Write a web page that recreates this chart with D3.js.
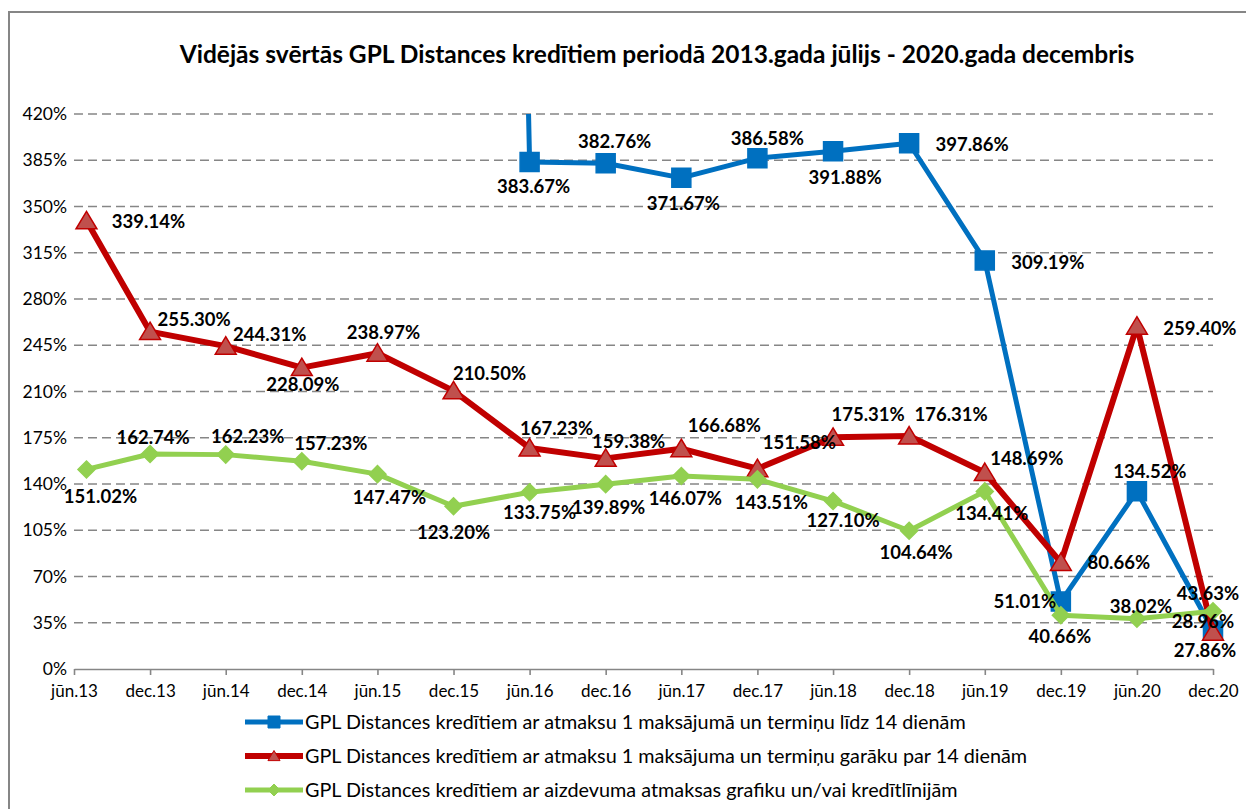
<!DOCTYPE html>
<html>
<head>
<meta charset="utf-8">
<script src="https://cdn.jsdelivr.net/npm/d3@7"></script>
<style>
  html, body { margin: 0; padding: 0; background: #fff; }
  svg { display: block; font-family: Lato, "Noto Sans", sans-serif; }
</style>
</head>
<body>
<svg id="chart" width="1246" height="809"></svg>
<script>
// ---------- DATA ----------
const chartTitle = "Vidējās svērtās GPL Distances kredītiem periodā 2013.gada jūlijs - 2020.gada decembris";
const tickLabels = ["jūn.13","dec.13","jūn.14","dec.14","jūn.15","dec.15","jūn.16","dec.16",
                    "jūn.17","dec.17","jūn.18","dec.18","jūn.19","dec.19","jūn.20","dec.20"];
const tickDates  = ["2013-06","2013-12","2014-06","2014-12","2015-06","2015-12","2016-06","2016-12",
                    "2017-06","2017-12","2018-06","2018-12","2019-06","2019-12","2020-06","2020-12"];
const pointDates = ["2013-07","2013-12","2014-06","2014-12","2015-06","2015-12","2016-06","2016-12",
                    "2017-06","2017-12","2018-06","2018-12","2019-06","2019-12","2020-06","2020-12"];
const seriesNames = [
  "GPL Distances kredītiem ar atmaksu 1 maksājumā un termiņu līdz 14 dienām",
  "GPL Distances kredītiem ar atmaksu 1 maksājuma un termiņu garāku par 14 dienām",
  "GPL Distances kredītiem ar aizdevuma atmaksas grafiku un/vai kredītlīnijām"
];
// dec.15 value of the first series lies far above the visible axis (estimated, clipped)
const shortTermValues = [null, null, null, null, null, 3000, 383.67, 382.76, 371.67, 386.58,
                         391.88, 397.86, 309.19, 51.01, 134.52, 28.96];
const longTermValues  = [339.14, 255.30, 244.31, 228.09, 238.97, 210.50, 167.23, 159.38, 166.68,
                         151.58, 175.31, 176.31, 148.69, 80.66, 259.40, 27.86];
const scheduleValues  = [151.02, 162.74, 162.23, 157.23, 147.47, 123.20, 133.75, 139.89, 146.07,
                         143.51, 127.10, 104.64, 134.41, 40.66, 38.02, 43.63];
const yTicks = [0, 35, 70, 105, 140, 175, 210, 245, 280, 315, 350, 385, 420];
// label placement (offset of label centre from its point, px) – layout only
const shortTermLabelOffsets = [null, null, null, null, null, null, [4,24], [9,-22], [2,25], [10,-20],
                               [12,26], [63,1], [63,2], [-36,0], [13,-20], [-10,-9]];
const longTermLabelOffsets  = [[62,0], [44,-12], [44,-12], [1,17], [6,-21], [36,-17], [27,-20], [23,-17],
                               [43,-23], [42,-26], [35,-23], [42,-22], [42,-14], [58,0], [63,2], [-8,18]];
const scheduleLabelOffsets  = [[14,27], [3,-17], [22,-18], [29,-18], [12,23], [0,26], [10,20], [3,23],
                               [4,22], [14,23], [10,19], [7,22], [7,22], [-1,21], [4,-12], [-5,-18]];

// ---------- LAYOUT ----------
const svg = d3.select("#chart");
const W = 1246, H = 809;
const plot = { left: 74, right: 1213, top: 114, bottom: 669 };
const parse = d3.utcParse("%Y-%m");

const x = d3.scaleUtc()
  .domain([parse(tickDates[0]), parse(tickDates[tickDates.length - 1])])
  .range([plot.left, plot.right]);
const y = d3.scaleLinear().domain([0, 420]).range([plot.bottom, plot.top]);

// outer frame
svg.append("rect").attr("x", 9).attr("y", 12).attr("width", W + 10).attr("height", H + 10)
  .attr("fill", "#fff").attr("stroke", "#868686").attr("stroke-width", 2);

// title
svg.append("text").attr("x", 657).attr("y", 63).attr("text-anchor", "middle")
  .attr("font-weight", "bold").attr("font-size", 24.5).attr("fill", "#000").text(chartTitle);

// gridlines
svg.append("g").selectAll("line").data(yTicks.filter(d => d > 0)).join("line")
  .attr("x1", plot.left).attr("x2", plot.right)
  .attr("y1", d => y(d)).attr("y2", d => y(d))
  .attr("stroke", "#868686").attr("stroke-width", 1.6).attr("stroke-dasharray", "9,5");

// y axis labels
const yAxis = d3.axisLeft(y).tickValues(yTicks).tickFormat(d => d + "%").tickSize(0).tickPadding(7);
const gy = svg.append("g").attr("transform", `translate(${plot.left},0)`).call(yAxis);
gy.select(".domain").remove();
gy.selectAll("text").attr("font-family", "Lato, sans-serif").attr("font-size", 17.5).attr("fill", "#000");

// x axis
const xAxis = d3.axisBottom(x).tickValues(tickDates.map(parse))
  .tickFormat((d, i) => tickLabels[i]).tickSize(6).tickSizeOuter(0).tickPadding(10);
const gx = svg.append("g").attr("transform", `translate(0,${plot.bottom})`).call(xAxis);
gx.select(".domain").attr("stroke", "#868686").attr("stroke-width", 1.6);
gx.selectAll(".tick line").attr("stroke", "#868686").attr("stroke-width", 1.6);
gx.selectAll("text").attr("font-family", "Lato, sans-serif").attr("font-size", 17).attr("fill", "#000");

// clip
svg.append("clipPath").attr("id", "plotclip").append("rect")
  .attr("x", 0).attr("y", plot.top).attr("width", W).attr("height", plot.bottom - plot.top + 30);

const series = [
  { name: seriesNames[0], values: shortTermValues, offs: shortTermLabelOffsets, color: "#0070C0", width: 5,
    marker: "square", mfill: "#0070C0", mstroke: "#0070C0" },
  { name: seriesNames[1], values: longTermValues, offs: longTermLabelOffsets, color: "#C00000", width: 6,
    marker: "triangle", mfill: "#C0504D", mstroke: "#C00000" },
  { name: seriesNames[2], values: scheduleValues, offs: scheduleLabelOffsets, color: "#92D050", width: 5,
    marker: "diamond", mfill: "#92D050", mstroke: "#92D050" }
];

function markerPath(type, s) {
  if (type === "square") return `M${-s/2},${-s/2}h${s}v${s}h${-s}Z`;
  if (type === "triangle") return `M0,${-s*0.5}L${s*0.55},${s*0.42}L${-s*0.55},${s*0.42}Z`;
  return `M0,${-s/2}L${s/2},0L0,${s/2}L${-s/2},0Z`;
}
const markerSize = { square: 19, triangle: 19, diamond: 17 };

const line = d3.line().defined(d => d.v != null).x(d => x(d.date)).y(d => y(d.v));

const plotG = svg.append("g").attr("clip-path", "url(#plotclip)");
series.forEach(s => {
  const pts = s.values.map((v, i) => ({ v, date: parse(pointDates[i]), off: s.offs[i] }));
  s.pts = pts;
  plotG.append("path").datum(pts).attr("d", line).attr("fill", "none")
    .attr("stroke", s.color).attr("stroke-width", s.width).attr("stroke-linejoin", "round");
  plotG.append("g").selectAll("path").data(pts.filter(p => p.v != null)).join("path")
    .attr("transform", p => `translate(${x(p.date)},${y(p.v)})`)
    .attr("d", markerPath(s.marker, markerSize[s.marker]))
    .attr("fill", s.mfill).attr("stroke", s.mstroke).attr("stroke-width", 1.5);
});

// data labels
const fmt = v => v.toFixed(2) + "%";
series.forEach(s => {
  svg.append("g").selectAll("text").data(s.pts.filter(p => p.v != null && p.off)).join("text")
    .attr("x", p => x(p.date) + p.off[0]).attr("y", p => y(p.v) + p.off[1])
    .attr("dy", "0.36em").attr("text-anchor", "middle")
    .attr("font-weight", "bold").attr("font-size", 18.5).attr("fill", "#000")
    .text(p => fmt(p.v));
});

// legend
const legendY = [722, 756, 790];
series.forEach((s, i) => {
  const g = svg.append("g").attr("transform", `translate(0,${legendY[i]})`);
  g.append("line").attr("x1", 245).attr("x2", 303).attr("y1", 0).attr("y2", 0)
    .attr("stroke", s.color).attr("stroke-width", s.width);
  g.append("path").attr("transform", "translate(274,0)")
    .attr("d", markerPath(s.marker, s.marker === "triangle" ? 11 : 12))
    .attr("fill", s.mfill).attr("stroke", s.mstroke).attr("stroke-width", 1);
  g.append("text").attr("x", 305).attr("y", 0).attr("dy", "0.35em")
    .attr("font-size", 19.8).attr("fill", "#000").text(s.name);
});
</script>
</body>
</html>
